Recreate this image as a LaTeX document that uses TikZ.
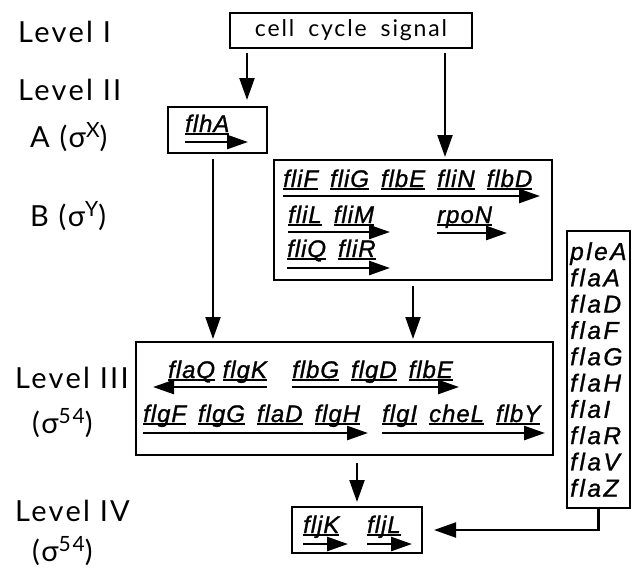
\documentclass[tikz,border=0pt]{standalone}
\usepackage{fontspec}
\setmainfont{Lato}
\newfontfamily\levelfont[LetterSpace=8]{Lato}
\newfontfamily\genefont[LetterSpace=4, FakeBold=1.1]{Liberation Sans}
\newfontfamily\widefont[LetterSpace=10, FakeBold=1.1]{Liberation Sans}
\usetikzlibrary{arrows.meta}
\tikzset{
    >=Stealth,
    box/.style={draw, line width=2pt, inner sep=0pt},
    level/.style={anchor=base west, inner sep=0pt, font=\levelfont\fontsize{29}{32}\selectfont},
    genes/.style={anchor=base west, inner sep=0pt, font=\genefont\itshape\fontsize{24}{26}\selectfont},
    widegenes/.style={anchor=base west, inner sep=0pt, font=\widefont\itshape\fontsize{24.5}{26}\selectfont},
    flow/.style={-{Triangle[length=22pt,width=15pt]}, line width=2.2pt},
    operon/.style={-{Triangle[length=21pt,width=14pt]}, line width=2.6pt}
}
\newcommand{\gn}[1]{\setbox0\hbox{#1}\rlap{\rule[-2.5pt]{\wd0}{1.5pt}}\box0\relax}
\newcommand{\gap}{\hspace{12pt}}
\newcommand{\sg}[1]{\raisebox{10pt}{\fontsize{21}{21}\selectfont #1}}

\begin{document}
\begin{tikzpicture}[x=1pt, y=-1pt]
    \useasboundingbox (0,0) rectangle (636,571);

    % Niveles
    \node[level] (l1)  at (18,42)  {Level I};
    \node[level] (l2)  at (18,100) {Level II};
    \node[level] (l2a) at (30,147) {A (σ\sg{X})};
    \node[level] (l2b) at (30,226) {B (σ\sg{Y})};
    \node[level] (l3)  at (15,388) {Level III};
    \node[level] (l3s) at (32,433) {(σ\sg{54})};
    \node[level] (l4)  at (15,521) {Level IV};
    \node[level] (l4s) at (32,561) {(σ\sg{54})};

    % Cajas
    \node[box, minimum width=242pt, minimum height=35pt, font=\levelfont\fontsize{23}{26}\selectfont]
        (signal) at (351,30.5) {cell\hspace{14pt}cycle\hspace{14pt}signal};
    \node[box, minimum width=99pt,  minimum height=46pt]  (flhA) at (217.5,130) {};
    \node[box, minimum width=278pt, minimum height=120pt] (clsB) at (413,220)   {};
    \node[box, minimum width=417pt, minimum height=113pt] (clsC) at (344.5,398.5) {};
    \node[box, minimum width=130pt, minimum height=46pt]  (clsD) at (357,530)   {};
    \node[box, minimum width=63pt,  minimum height=277pt] (fla)  at (598.5,369.5) {};

    % Genes
    \node[genes] (ha) at (185,132) {\gn{flhA}};
    \draw[operon] ([yshift=-10pt]ha.base west) -- ([xshift=63pt,yshift=-10pt]ha.base west);

    \node[genes] (b1) at (283,187) {\gn{fliF}\gap\gn{fliG}\gap\gn{flbE}\gap\gn{fliN}\gap\gn{flbD}};
    \draw[operon] ([yshift=-9pt]b1.base west) -- ([xshift=257pt,yshift=-9pt]b1.base west);
    \node[genes] (b2) at (288,223) {\gn{fliL}\gap\gn{fliM}};
    \draw[operon] ([yshift=-9pt]b2.base west) -- ([xshift=102pt,yshift=-9pt]b2.base west);
    \node[genes] (b3) at (437,223) {\gn{rpoN}};
    \draw[operon] ([yshift=-10pt]b3.base west) -- ([xshift=70pt,yshift=-10pt]b3.base west);
    \node[genes] (b4) at (287,257) {\gn{fliQ}\gap\gn{fliR}};
    \draw[operon] ([yshift=-11pt]b4.base west) -- ([xshift=103pt,yshift=-11pt]b4.base west);

    \node[genes] (c1) at (168,378) {\gn{flaQ} \gn{flgK}};
    \draw[operon] ([xshift=99pt,yshift=-9pt]c1.base west) -- ([xshift=-15pt,yshift=-9pt]c1.base west);
    \node[genes] (c2) at (292,378) {\gn{flbG}\gap\gn{flgD}\gap\gn{flbE}};
    \draw[operon] ([yshift=-9pt]c2.base west) -- ([xshift=167pt,yshift=-9pt]c2.base west);
    \node[genes] (c3) at (143,422) {\gn{flgF}\gap\gn{flgG}\gap\gn{flaD}\gap\gn{flgH}};
    \draw[operon] ([yshift=-11pt]c3.base west) -- ([xshift=225pt,yshift=-11pt]c3.base west);
    \node[genes] (c4) at (382,422) {\gn{flgI}\gap\gn{cheL}\gap\gn{flbY}};
    \draw[operon] ([yshift=-11pt]c4.base west) -- ([xshift=163pt,yshift=-11pt]c4.base west);

    \node[genes] (d1) at (303,533) {\gn{fljK}};
    \draw[operon] ([yshift=-11pt]d1.base west) -- ([xshift=45pt,yshift=-11pt]d1.base west);
    \node[genes] (d2) at (367,533) {\gn{fljL}};
    \draw[operon] ([yshift=-11pt]d2.base west) -- ([xshift=45pt,yshift=-11pt]d2.base west);

    \foreach \g [count=\i from 0] in {pleA,flaA,flaD,flaF,flaG,flaH,flaI,flaR,flaV,flaZ}
        \node[widegenes] (f\i) at (570,260+26.3*\i) {\g};

    % Flechas
    \coordinate (xa) at (247,0);
    \coordinate (xb) at (445,0);
    \coordinate (xc) at (213,0);
    \draw[flow, shorten <=4pt, shorten >=6pt] (signal.south -| xa) -- (flhA.north -| xa);
    \draw[flow, shorten <=4pt, shorten >=2pt] (signal.south -| xb) -- (clsB.north -| xb);
    \draw[flow, shorten <=5pt, shorten >=2pt] (flhA.south -| xc) -- (clsC.north -| xc);
    \draw[flow, shorten <=5pt, shorten >=2pt] (clsB.south) -- (clsB.south |- clsC.north);
    \draw[flow, shorten <=7pt, shorten >=4pt] (clsC.south -| clsD.north) -- (clsD.north);
    \draw[flow, shorten >=11pt] (fla.south) |- (clsD.east);

\end{tikzpicture}
\end{document}
